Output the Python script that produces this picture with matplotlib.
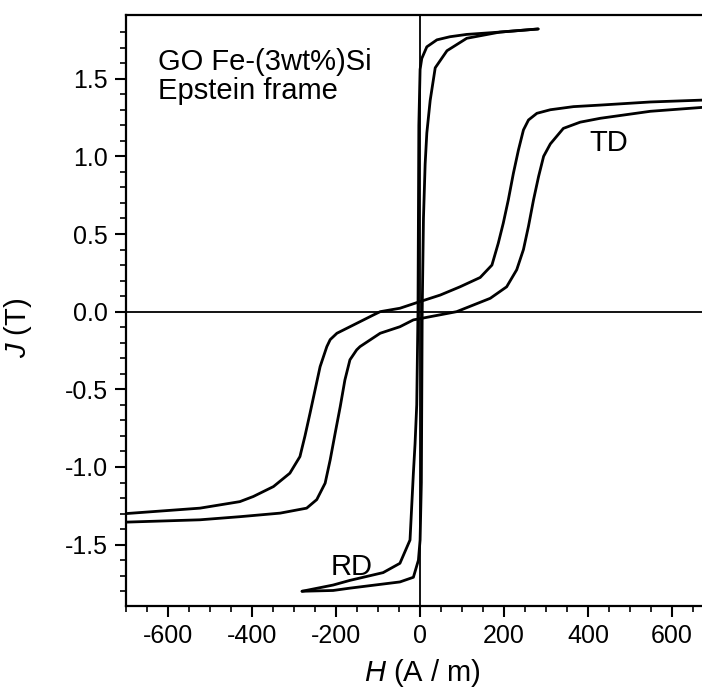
import matplotlib.pyplot as plt

plt.rcParams['font.family'] = ['Liberation Sans', 'DejaVu Sans']
plt.rcParams['mathtext.fontset'] = 'custom'
plt.rcParams['mathtext.it'] = 'Liberation Sans:italic'
plt.rcParams['mathtext.rm'] = 'Liberation Sans'

# TD loop (H in A/m, J in T)
td_desc_h = [671, 548, 429, 365, 310, 278, 258, 246, 234, 222, 210, 198, 186, 171, 143,
             95, 48, -8, -48, -95, -111, -167, -198, -214, -222, -238, -250, -262, -274,
             -286, -310, -349, -397, -429, -524, -700]
td_desc_j = [1.362, 1.35, 1.33, 1.32, 1.30, 1.277, 1.234, 1.17, 1.04, 0.89, 0.72, 0.57,
             0.44, 0.30, 0.22, 0.16, 0.107, 0.058, 0.022, 0.0, -0.021, -0.097, -0.139,
             -0.18, -0.225, -0.354, -0.504, -0.654, -0.80, -0.933, -1.04, -1.126, -1.19,
             -1.223, -1.265, -1.30]
td_asc_h = [-700, -524, -429, -333, -270, -246, -226, -214, -202, -190, -179, -167, -151,
            -143, -95, -48, -16, 87, 127, 167, 206, 230, 246, 258, 270, 282, 294, 310,
            341, 381, 429, 548, 671]
td_asc_j = [-1.355, -1.34, -1.32, -1.297, -1.265, -1.21, -1.104, -0.954, -0.78, -0.61,
            -0.44, -0.31, -0.246, -0.225, -0.139, -0.097, -0.053, 0.0, 0.043, 0.086, 0.16,
            0.27, 0.40, 0.55, 0.72, 0.87, 1.00, 1.08, 1.18, 1.22, 1.245, 1.29, 1.315]

# RD loop
rd_desc_h = [281, 190, 111, 71, 40, 16, 4, 0, -3, -5, -8, -12, -16, -24, -48, -88,
             -167, -207, -281]
rd_desc_j = [1.82, 1.80, 1.785, 1.77, 1.75, 1.705, 1.63, 1.56, 1.2, 0.0, -0.6, -0.85,
             -1.04, -1.47, -1.62, -1.68, -1.73, -1.76, -1.80]
rd_asc_h = [-281, -207, -167, -48, -16, -4, 0, 3, 5, 8, 12, 16, 24, 36, 64, 111, 190, 281]
rd_asc_j = [-1.80, -1.795, -1.78, -1.74, -1.71, -1.60, -1.47, -1.1, 0.0, 0.6, 0.95,
            1.15, 1.36, 1.57, 1.68, 1.76, 1.80, 1.82]

fig = plt.figure(figsize=(7.02, 6.91), dpi=100)
ax = fig.add_axes([0.1795, 0.123, 0.8205, 0.8553])

ax.axhline(0, color='black', lw=1.3)
ax.axvline(0, color='black', lw=1.3)

for h, j in [(td_desc_h, td_desc_j), (td_asc_h, td_asc_j),
             (rd_desc_h, rd_desc_j), (rd_asc_h, rd_asc_j)]:
    ax.plot(h, j, color='black', lw=2.0, solid_joinstyle='round', solid_capstyle='round')

ax.set_xlim(-700, 671)
ax.set_ylim(-1.895, 1.91)
ax.set_xticks([-600, -400, -200, 0, 200, 400, 600])
ax.set_xticks(range(-700, 700, 50), minor=True)
ax.set_yticks([-1.5, -1.0, -0.5, 0.0, 0.5, 1.0, 1.5])
ax.set_yticks([i / 10 for i in range(-18, 19)], minor=True)
ax.set_yticklabels(['-1.5', '-1.0', '-0.5', '0.0', '0.5', '1.0', '1.5'])
ax.set_xticklabels(['-600', '-400', '-200', '0', '200', '400', '600'])

ax.tick_params(which='major', direction='out', length=8, width=1.5, labelsize=18, pad=5)
ax.tick_params(which='minor', direction='out', length=4, width=1.2)
ax.spines['right'].set_visible(False)
for s in ['left', 'bottom', 'top']:
    ax.spines[s].set_linewidth(1.6)

ax.set_xlabel(r'$\mathit{H}$ (A / m)', fontsize=21)
ax.set_ylabel(r'$\mathit{J}$ (T)', fontsize=21)
ax.xaxis.set_label_coords(0.514, -0.087)
ax.yaxis.set_label_coords(-0.16, 0.47)

ax.text(0.055, 0.945, 'GO Fe-(3wt%)Si\nEpstein frame', transform=ax.transAxes,
        fontsize=21, va='top', ha='left', linespacing=1.05)
ax.text(450, 1.085, 'TD', fontsize=21, ha='center', va='center')
ax.text(-162, -1.645, 'RD', fontsize=21, ha='center', va='center')

fig.savefig('out.png', dpi=100)
